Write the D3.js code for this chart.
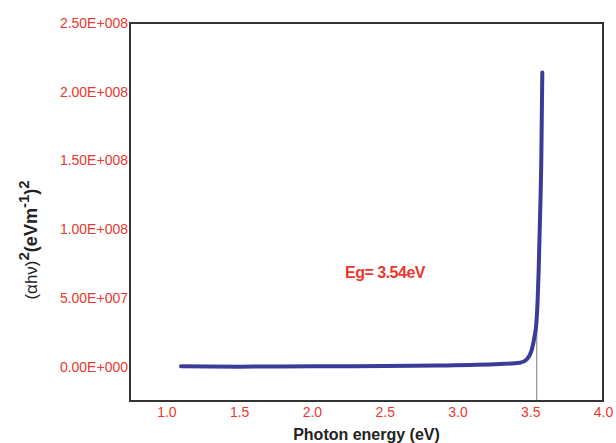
<!DOCTYPE html>
<html>
<head>
<meta charset="utf-8">
<script src="https://cdn.jsdelivr.net/npm/d3@7"></script>
<style>
  body { margin: 0; background: #fff; }
  text { font-family: Arial, "Liberation Sans", sans-serif; }
</style>
</head>
<body>
<div id="vis"></div>
<script>
'use strict'

// photon energy (eV)
let energy = [1.10, 1.5, 2.0, 2.5, 2.86, 3.292, 3.43, 3.476, 3.51, 3.533, 3.54, 3.55, 3.558, 3.567, 3.576, 3.583]
// (alpha h nu)^2
let absorb = [0.2e6, 0.0, 0.2e6, 0.5e6, 0.8e6, 1.9e6, 2.8e6, 5.3e6, 1.2e7, 2.4e7, 2.9e7, 4.6e7, 7.0e7, 1.07e8, 1.5e8, 2.14e8]

let xTicks = [1.0, 1.5, 2.0, 2.5, 3.0, 3.5, 4.0]
let yTicks = [0, 5e7, 1e8, 1.5e8, 2e8, 2.5e8]
let yTickLabels = ["0.00E+000", "5.00E+007", "1.00E+008", "1.50E+008", "2.00E+008", "2.50E+008"]
let eg = 3.545

let width = 616, height = 443
let margin = {left: 130, right: 13, top: 23, bottom: 42}

let svg = d3.select("#vis").append("svg")
  .attr("width", width)
  .attr("height", height)

let x = d3.scaleLinear().domain([0.75, 4.0]).range([margin.left, width - margin.right])
let y = d3.scaleLinear().domain([-2.5e7, 2.5e8]).range([height - margin.bottom, margin.top])

let red = "#e8382f"

// axis tick labels (no tick marks in the original)
let xAxis = svg.append("g")
  .attr("transform", "translate(0," + (height - margin.bottom) + ")")
  .call(d3.axisBottom(x).tickValues(xTicks).tickFormat(d3.format(".1f")).tickSize(0).tickPadding(6))
xAxis.select(".domain").remove()
xAxis.selectAll("text").attr("fill", red).style("font-size", "14px")

let yAxis = svg.append("g")
  .attr("transform", "translate(" + margin.left + ",0)")
  .call(d3.axisLeft(y).tickValues(yTicks).tickFormat(function(d, i){ return yTickLabels[i] }).tickSize(0).tickPadding(2))
yAxis.select(".domain").remove()
yAxis.selectAll("text").attr("fill", red).style("font-size", "14px")

// Eg marker line
let line = d3.line()
  .x(function(d){ return x(d[0]) })
  .y(function(d){ return y(d[1]) })
  .curve(d3.curveMonotoneX)

let pts = energy.map(function(e, i){ return [e, absorb[i]] })

svg.append("line")
  .attr("x1", x(eg)).attr("x2", x(eg))
  .attr("y1", y(3.4e7)).attr("y2", y.range()[0])
  .attr("stroke", "#777")
  .attr("stroke-width", 1)

svg.append("path")
  .datum(pts)
  .attr("d", line)
  .attr("fill", "none")
  .attr("stroke", "#3a3c97")
  .attr("stroke-width", 4)
  .attr("stroke-linecap", "round")
  .attr("stroke-linejoin", "round")

// plot frame
svg.append("rect")
  .attr("x", margin.left)
  .attr("y", margin.top)
  .attr("width", width - margin.left - margin.right)
  .attr("height", height - margin.top - margin.bottom)
  .attr("fill", "none")
  .attr("stroke", "#333")
  .attr("stroke-width", 2)

svg.append("text")
  .attr("x", 345)
  .attr("y", 278)
  .attr("fill", red)
  .style("font-size", "16px")
  .style("font-weight", "bold")
  .style("letter-spacing", "-0.5px")
  .text("Eg= 3.54eV")

// axis titles
svg.append("text")
  .attr("x", (margin.left + width - margin.right) / 2)
  .attr("y", 440)
  .attr("text-anchor", "middle")
  .attr("fill", "#222")
  .style("font-size", "16px")
  .style("font-weight", "bold")
  .text("Photon energy (eV)")

let yt = svg.append("text")
  .attr("transform", "translate(37,240) rotate(-90)")
  .attr("text-anchor", "middle")
  .attr("fill", "#222")
  .style("font-size", "18px")
  .style("font-weight", "bold")
yt.append("tspan").style("font-weight", "normal").style("font-size", "17px").text("(\u03b1h\u03bd)")
yt.append("tspan").attr("dy", -8).style("font-size", "15px").text("2")
yt.append("tspan").attr("dy", 8).text("(eVm")
yt.append("tspan").attr("dy", -8).style("font-size", "15px").text("-1")
yt.append("tspan").attr("dy", 8).text(")")
yt.append("tspan").attr("dy", -8).style("font-size", "15px").text("2")
</script>
</body>
</html>
